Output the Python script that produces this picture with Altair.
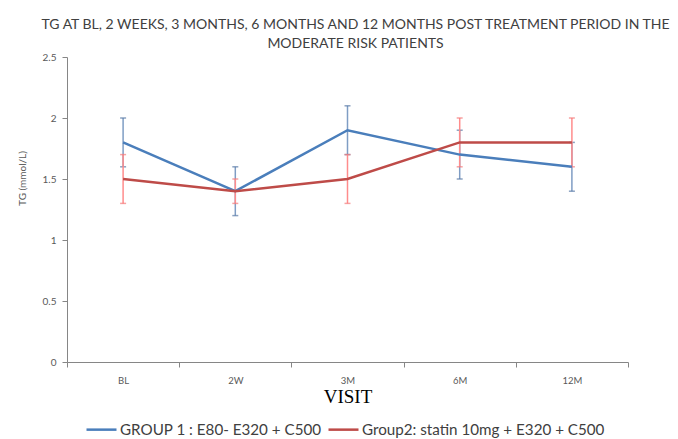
import altair as alt
import pandas as pd

visits = ["BL", "2W", "3M", "6M", "12M"]
groups = ["GROUP 1 : E80- E320 + C500", "Group2: statin 10mg + E320 + C500"]
g1_mean = [1.8, 1.4, 1.9, 1.7, 1.6]
g1_err = [0.2, 0.2, 0.2, 0.2, 0.2]
g2_mean = [1.5, 1.4, 1.5, 1.8, 1.8]
g2_err = [0.2, 0.1, 0.2, 0.2, 0.2]
y_ticks = [0, 0.5, 1, 1.5, 2, 2.5]

line_colors = ["#4a7ebb", "#be4b48"]
err_colors = ["#7f9dc4", "#ff8c8c"]
cap_colors = ["#5a7aa6", "#f47a7a"]

rows = []
for g, means, errs in [(groups[0], g1_mean, g1_err), (groups[1], g2_mean, g2_err)]:
    for v, m, e in zip(visits, means, errs):
        rows.append({"visit": v, "group": g, "mean": m, "lo": m - e, "hi": m + e})
df = pd.DataFrame(rows)

x_enc = alt.X(
    "visit:N",
    sort=visits,
    bandPosition=0.5,
    scale=alt.Scale(type="band", paddingInner=0, paddingOuter=0),
    axis=alt.Axis(
        title="VISIT",
        titleFont="Liberation Serif",
        titleFontSize=19,
        titleFontWeight="normal",
        titleColor="#000000",
        titlePadding=3,
        labelAngle=0,
        labelFont="Lato",
        labelFontSize=9.5,
        labelColor="#595959",
        labelPadding=8,
        tickBand="extent",
        tickSize=5,
        tickColor="#868686",
        domainColor="#868686",
        grid=False,
    ),
)

y_scale = alt.Scale(domain=[0, 2.5], nice=False)

base = alt.Chart(df)

err_layers = []
for i, g in enumerate(groups):
    sub = base.transform_filter(alt.datum.group == g)
    rule = sub.mark_rule(strokeWidth=1.5, color=err_colors[i]).encode(
        x=x_enc,
        y=alt.Y("lo:Q", scale=y_scale),
        y2="hi:Q",
    )
    cap_lo = sub.mark_tick(size=6, thickness=1.5, color=cap_colors[i], orient="horizontal").encode(
        x=x_enc, y=alt.Y("lo:Q", scale=y_scale)
    )
    cap_hi = sub.mark_tick(size=6, thickness=1.5, color=cap_colors[i], orient="horizontal").encode(
        x=x_enc, y=alt.Y("hi:Q", scale=y_scale)
    )
    err_layers += [rule, cap_lo, cap_hi]

lines = base.mark_line(strokeWidth=2.5).encode(
    x=x_enc,
    y=alt.Y(
        "mean:Q",
        scale=y_scale,
        axis=alt.Axis(
            title="TG (mmol/L)",
            titleFont="Lato",
            titleFontSize=10,
            titleFontWeight="normal",
            titleColor="#595959",
            titleAngle=270,
            titleX=-45,
            titleY=121,
            titleAlign="center",
            titleBaseline="middle",
            values=y_ticks,
            format=".1~f",
            labelFont="Lato",
            labelFontSize=10,
            labelColor="#595959",
            labelPadding=6,
            tickSize=5,
            tickColor="#868686",
            domainColor="#868686",
            grid=False,
        ),
    ),
    color=alt.Color(
        "group:N",
        sort=groups,
        scale=alt.Scale(domain=groups, range=line_colors),
        legend=alt.Legend(
            title=None,
            orient="none",
            legendX=18,
            legendY=356,
            direction="horizontal",
            symbolType="stroke",
            symbolSize=900,
            symbolStrokeWidth=2.5,
            labelFont="Lato",
            labelFontSize=15.2,
            labelColor="#404040",
            labelOffset=2,
            columnPadding=1,
            labelLimit=400,
        ),
    ),
)

chart = alt.layer(*err_layers, lines).properties(
    width=561,
    height=305,
    autosize="none",
    padding={"left": 59, "top": 49, "right": 42, "bottom": 80},
    title=alt.TitleParams(
        text=[
            "TG AT BL, 2 WEEKS, 3 MONTHS, 6 MONTHS AND 12 MONTHS POST TREATMENT PERIOD IN THE",
            "MODERATE RISK PATIENTS",
        ],
        font="Lato",
        fontSize=14,
        fontWeight="normal",
        color="#404040",
        anchor="middle",
        frame="group",
        dx=8,
        offset=1,
        lineHeight=19,
    ),
).configure_view(stroke=None)

chart.save("out.html", embed_options={"renderer": "svg", "actions": False})
